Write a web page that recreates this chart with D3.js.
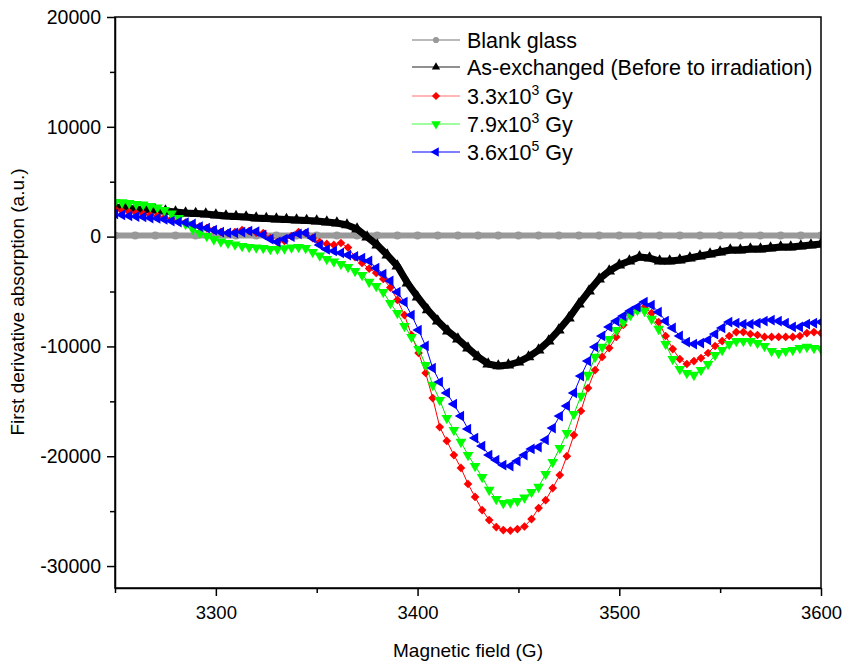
<!DOCTYPE html>
<html>
<head>
<meta charset="utf-8">
<script src="https://cdn.jsdelivr.net/npm/d3@7"></script>
<style>
  body { margin: 0; background: #fff; }
  text { font-family: "Liberation Sans", Arial, sans-serif; fill: #000; }
</style>
</head>
<body>
<svg width="843" height="662"></svg>
<script>
// field grids (G)
const fieldFine = d3.range(0, 101).map(i => 3250 + 3.5 * i);   // irradiated samples
const fieldBlack = d3.range(0, 71).map(i => 3250 + 5 * i);     // as-exchanged
const fieldBlank = d3.range(0, 36).map(i => 3250 + 10 * i);    // blank glass

const xTicksMajor = [3300, 3400, 3500, 3600];
const xTicksMinor = [3250, 3350, 3450, 3550];
const yTicksMajor = [20000, 10000, 0, -10000, -20000, -30000];
const yTicksMinor = [15000, 5000, -5000, -15000, -25000];

const blankGlass = [100, 100, 100, 100, 100, 100, 100, 100, 100, 100, 100, 100,
  100, 100, 100, 100, 100, 100, 100, 100, 100, 100, 100, 100,
  100, 100, 100, 100, 100, 100, 100, 100, 100, 100, 100, 100];

const asExchanged = [2700, 2600, 2510, 2470, 2420, 2330, 2240, 2150, 2100, 2060,
  1970, 1880, 1830, 1790, 1690, 1650, 1600, 1560, 1510, 1470,
  1420, 1330, 1240, 1060, 690, -40, -770, -1680, -2680, -4230,
  -5500, -6680, -7690, -8600, -9330, -10150, -10960, -11600, -11780, -11690,
  -11420, -10960, -10330, -9510, -8510, -7420, -6140, -4960, -3870, -3130,
  -2590, -2220, -1860, -1950, -2220, -2220, -2130, -1950, -1770, -1590,
  -1400, -1220, -1220, -1130, -1130, -1040, -950, -950, -860, -770, -680];

const dose33 = [2510, 2330, 2240, 2150, 2060, 1970, 1880, 1740, 1600, 1420,
  1280, 1060, 920, 780, 600, 420, 330, 420, 600, 510,
  370, 330, -130, -490, -400, 50, 420, 330, -130, -490,
  -670, -760, -580, -990, -1860, -2400, -2910, -3310, -3860, -4640,
  -5770, -7140, -8960, -10600, -12420, -14700, -17340, -18610, -19890, -21070,
  -22530, -23710, -24900, -25810, -26450, -26720, -26770, -26630, -26400, -25720,
  -24720, -24000, -22900, -21720, -20000, -18070, -15880, -13790, -12150, -10960,
  -10150, -9140, -8050, -7140, -6500, -6410, -6960, -7780, -9050, -10240,
  -11150, -11600, -11330, -11060, -10600, -9960, -9510, -9050, -8690, -8690,
  -8870, -8960, -9140, -9140, -9140, -9140, -9140, -9050, -8780, -8690, -8780];

const dose79 = [3150, 3110, 3060, 2970, 2920, 2790, 2650, 2420, 2100, 1690,
  1150, 690, 330, 50, -260, -450, -580, -720, -860, -950,
  -990, -1040, -1130, -1130, -1080, -990, -950, -1040, -1400, -1720,
  -2040, -2270, -2500, -2770, -3130, -3500, -4130, -4500, -5050, -6050,
  -6960, -8140, -9140, -10240, -11690, -13510, -14880, -16520, -17610, -18700,
  -19890, -20890, -21890, -23070, -23900, -24260, -24210, -24080, -23760, -23260,
  -22800, -21620, -20530, -19250, -17890, -16160, -14510, -12600, -10960, -10050,
  -9330, -8510, -7780, -7140, -6680, -6770, -7500, -8410, -9780, -11150,
  -12060, -12420, -12600, -12150, -11600, -10780, -10330, -9780, -9510, -9510,
  -9510, -9690, -9960, -10420, -10600, -10420, -10330, -10150, -10050, -10150, -10240];

const dose36 = [2060, 1970, 1880, 1830, 1790, 1690, 1650, 1560, 1420, 1330,
  1280, 1150, 920, 780, 600, 420, 330, 330, 420, 510,
  460, 150, -220, -490, -220, 10, 240, 330, -130, -760,
  -1170, -1310, -1490, -1680, -1810, -1950, -2220, -2860, -3410, -4040,
  -5050, -5960, -7140, -8510, -9960, -11970, -13240, -14240, -15250, -16340,
  -17520, -18340, -19070, -19890, -20350, -20800, -20890, -20440, -19890, -19340,
  -19160, -18520, -17430, -16340, -15420, -14240, -12700, -11330, -10050, -9050,
  -8230, -7690, -7230, -6770, -6410, -5960, -6230, -6870, -7690, -8320,
  -9050, -9600, -9780, -9690, -9420, -8870, -8320, -7780, -7870, -7960,
  -7960, -7870, -7690, -7600, -7690, -7870, -8230, -8230, -7960, -7870, -7780];

const svg = d3.select("svg");
const mLeft = 115, mRight = 821, mTop = 17, mBottom = 588;

const x = d3.scaleLinear().domain([3250, 3600]).range([mLeft, mRight]);
const y = d3.scaleLinear().domain([-32000, 20000]).range([mBottom, mTop]);

svg.append("defs").append("clipPath").attr("id", "plot")
   .append("rect").attr("x", mLeft).attr("y", mTop)
   .attr("width", mRight - mLeft).attr("height", mBottom - mTop);

const plot = svg.append("g").attr("clip-path", "url(#plot)");

const series = [
  { name: "Blank glass", field: fieldBlank, values: blankGlass, color: "#999999",
    lineColor: "#999999", lineWidth: 6, symbol: d3.symbolCircle, size: 50, rot: 0,
    legendLine: "#777", legendSize: 30 },
  { name: "As-exchanged (Before to irradiation)", field: fieldBlack, values: asExchanged, color: "#000000",
    lineColor: "#000000", lineWidth: 7, symbol: d3.symbolTriangle, size: 60, rot: 0,
    legendLine: "#222", legendSize: 30 },
  { name: "3.3x10|3| Gy", field: fieldFine, values: dose33, color: "#ff0000",
    lineColor: "#ff0000", lineWidth: 1, symbol: d3.symbolSquare, size: 38, rot: 45,
    legendLine: "#ff7070", legendSize: 34 },
  { name: "7.9x10|3| Gy", field: fieldFine, values: dose79, color: "#00ff00",
    lineColor: "#00e000", lineWidth: 1, symbol: d3.symbolTriangle, size: 50, rot: 180,
    legendLine: "#40ff40", legendSize: 40 },
  { name: "3.6x10|5| Gy", field: fieldFine, values: dose36, color: "#0000ff",
    lineColor: "#0000ff", lineWidth: 1, symbol: d3.symbolTriangle, size: 50, rot: -90,
    legendLine: "#0000ff", legendSize: 40 }
];

const line = d3.line().x(d => x(d[0])).y(d => y(d[1]));

series.forEach(s => {
  const pts = s.field.map((f, i) => [f, s.values[i]]);
  plot.append("path")
      .datum(pts)
      .attr("fill", "none")
      .attr("stroke", s.lineColor)
      .attr("stroke-width", s.lineWidth)
      .attr("stroke-linejoin", "round")
      .attr("d", line);
  plot.append("g").selectAll("path")
      .data(pts)
      .join("path")
      .attr("transform", d => `translate(${x(d[0])},${y(d[1])}) rotate(${s.rot})`)
      .attr("d", d3.symbol().type(s.symbol).size(s.size))
      .attr("fill", s.color);
});

// axes
const plain = d => String(d);
const xAxis = svg.append("g").attr("transform", `translate(0,${mBottom})`)
   .call(d3.axisBottom(x).tickValues(xTicksMajor).tickSize(8).tickSizeOuter(0).tickPadding(10).tickFormat(plain));
svg.append("g").attr("transform", `translate(0,${mBottom})`)
   .call(d3.axisBottom(x).tickValues(xTicksMinor).tickSize(5).tickSizeOuter(0).tickFormat(""))
   .select(".domain").remove();
const yAxis = svg.append("g").attr("transform", `translate(${mLeft},0)`)
   .call(d3.axisLeft(y).tickValues(yTicksMajor).tickSize(8).tickSizeOuter(0).tickPadding(6).tickFormat(plain));
svg.append("g").attr("transform", `translate(${mLeft},0)`)
   .call(d3.axisLeft(y).tickValues(yTicksMinor).tickSize(5).tickSizeOuter(0).tickFormat(""))
   .select(".domain").remove();

svg.selectAll(".tick line").attr("stroke", "#000").attr("stroke-width", 1.5);
svg.selectAll(".domain").attr("stroke-width", 1.5);
xAxis.selectAll("text").attr("font-size", 18.5).style("font-family", "Liberation Sans, Arial, sans-serif");
yAxis.selectAll("text").attr("font-size", 19.5).style("font-family", "Liberation Sans, Arial, sans-serif");

// frame
svg.append("rect")
   .attr("x", mLeft).attr("y", mTop)
   .attr("width", mRight - mLeft).attr("height", mBottom - mTop)
   .attr("fill", "none").attr("stroke", "#000").attr("stroke-width", 1.5);

// axis titles
svg.append("text")
   .attr("x", 468).attr("y", 657)
   .attr("text-anchor", "middle")
   .attr("font-size", 19)
   .text("Magnetic field (G)");
svg.append("text")
   .attr("transform", "translate(24,302) rotate(-90)")
   .attr("text-anchor", "middle")
   .attr("font-size", 19)
   .text("First derivative absorption (a.u.)");

// legend
const legendY = [40, 67, 96, 124, 152];
const legend = svg.append("g");
series.forEach((s, i) => {
  const g = legend.append("g").attr("transform", `translate(0,${legendY[i]})`);
  g.append("line").attr("x1", 412).attr("x2", 460).attr("y1", 0).attr("y2", 0)
   .attr("stroke", s.legendLine).attr("stroke-width", 1.2);
  g.append("path")
   .attr("transform", `translate(436,0) rotate(${s.rot})`)
   .attr("d", d3.symbol().type(s.symbol).size(s.legendSize))
   .attr("fill", s.color);
  const t = g.append("text").attr("x", 467).attr("y", 7.5).attr("font-size", 21.5);
  const parts = s.name.split("|");
  t.append("tspan").text(parts[0]);
  if (parts.length > 1) {
    t.append("tspan").attr("dy", -9).attr("font-size", 14).text(parts[1]);
    t.append("tspan").attr("dy", 9).text(parts[2]);
  }
});
</script>
</body>
</html>
